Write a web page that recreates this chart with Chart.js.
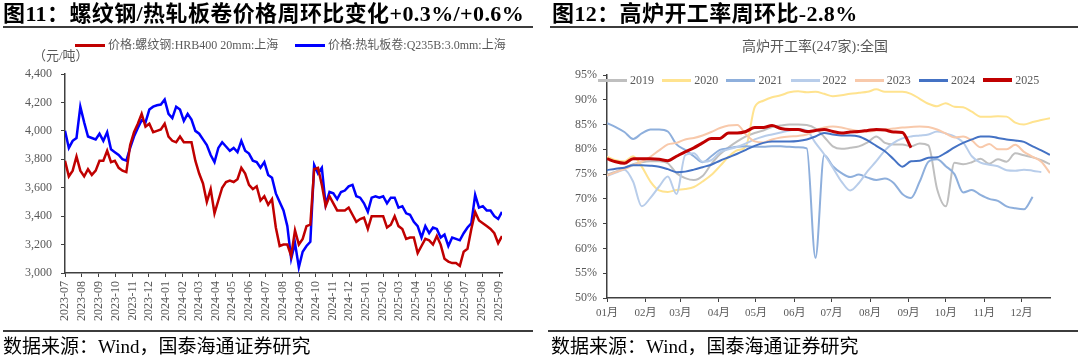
<!DOCTYPE html>
<html>
<head>
<meta charset="utf-8">
<script src="https://cdn.jsdelivr.net/npm/chart.js@4.4.1/dist/chart.umd.min.js"></script>
<style>
  body { margin: 0; width: 1080px; height: 358px; background: #fff; position: relative; overflow: hidden;
         font-family: 'Liberation Serif', 'Noto Sans CJK SC', serif; }
  canvas { position: absolute; top: 0; }
  .t { position: absolute; white-space: nowrap; }
  .fig-title { top: 2px; font-size: 22px; line-height: 24px; font-weight: bold; color: #000; letter-spacing: 0.4px; }
  .rule { position: absolute; height: 2px; background: #3c3c3c; }
  .source { top: 337px; font-size: 19px; line-height: 20px; color: #000; }
  .legend-text { font-size: 12px; line-height: 14px; color: #595959; }
  .swatch { position: absolute; height: 3px; }
</style>
</head>
<body>
<canvas id="priceChart" width="540" height="358" style="left:0"></canvas>
<canvas id="rateChart" width="540" height="358" style="left:540px"></canvas>

<div class="t fig-title" style="left:3px">图11：螺纹钢/热轧板卷价格周环比变化+0.3%/+0.6%</div>
<div class="rule" style="left:3px;width:530px;top:26px"></div>
<div class="t fig-title" style="left:552px">图12：高炉开工率周环比-2.8%</div>
<div class="rule" style="left:550px;width:528px;top:26px"></div>

<div class="t legend-text" style="left:33px;top:49px;font-size:13px">（元/吨）</div>
<div class="t" style="left:715px;width:200px;text-align:center;top:39px;font-size:14px;line-height:16px;color:#595959">高炉开工率(247家):全国</div>

<div class="rule" style="left:3px;width:530px;top:330px"></div>
<div class="rule" style="left:548px;width:530px;top:330px"></div>
<div class="t source" style="left:3px">数据来源：Wind，国泰海通证券研究</div>
<div class="t source" style="left:551px">数据来源：Wind，国泰海通证券研究</div>

<script>
// ---- 图11: weekly prices, 元/吨, first week starts 2023-07-01 ----
const rebarPrice = [3790,3680,3720,3820,3720,3680,3730,3690,3720,3790,3790,3860,3780,3790,3740,3720,3710,3900,3990,4050,
  4120,4030,4050,3990,4000,4010,4050,3960,3930,3920,3960,3920,3920,3920,3790,3700,3630,3500,3590,3420,
  3510,3600,3640,3650,3640,3660,3740,3700,3620,3590,3610,3510,3540,3480,3520,3320,3190,3200,
  3200,3120,3300,3200,3240,3330,3340,3730,3740,3620,3470,3540,3490,3440,3440,3440,3460,3410,3360,3380,
  3390,3310,3400,3400,3400,3400,3320,3340,3400,3330,3310,3240,3250,3250,3140,3190,3240,3230,3200,3260,
  3200,3100,3080,3070,3070,3050,3150,3170,3310,3430,3370,3350,3330,3310,3280,3210,3260];
const hotRolledPrice = [4000,3880,3930,3950,4170,4060,3960,3950,3940,3980,3930,3990,3870,3850,3830,3800,3790,3880,3960,4020,
  4075,4060,4150,4170,4180,4185,4220,4120,4090,4170,4150,4070,4120,4080,4000,3980,3940,3900,3830,3780,
  3880,3920,3890,3860,3880,3850,3930,3860,3840,3790,3780,3740,3780,3690,3670,3560,3500,3440,
  3330,3100,3210,3040,3150,3190,3220,3760,3700,3740,3480,3570,3560,3520,3570,3580,3610,3620,3540,3530,
  3490,3430,3530,3540,3530,3540,3490,3530,3530,3460,3470,3420,3410,3360,3330,3250,3330,3280,3320,3310,
  3250,3270,3190,3250,3240,3230,3280,3320,3350,3550,3460,3470,3440,3440,3400,3380,3430];
const priceMonthLabels = ['2023-07','2023-08','2023-09','2023-10','2023-11','2023-12','2024-01','2024-02','2024-03',
  '2024-04','2024-05','2024-06','2024-07','2024-08','2024-09','2024-10','2024-11','2024-12','2025-01','2025-02',
  '2025-03','2025-04','2025-05','2025-06','2025-07','2025-08','2025-09'];
const priceYTicks = [3000, 3200, 3400, 3600, 3800, 4000, 4200, 4400];

// ---- 图12: weekly blast furnace utilisation, % ----
const rate2019 = [74.9,75.5,76.2,77.0,77.4,77.6,77.6,77.2,75.2,74.2,73.8,74.6,77.0,79.0,80.4,81.6,82.6,83.3,83.8,84.5,
  84.8,85.0,85.0,84.9,84.2,82.5,80.6,80.1,80.3,80.6,81.4,82.6,81.3,81.0,81.0,80.6,81.2,80.8,72.0,68.5,
  77.3,77.0,77.4,78.1,77.1,78.0,77.5,79.2,78.8,78.4,77.8,77.0];
const rate2020 = [78.5,77.8,77.6,78.6,76.5,73.5,71.7,71.4,71.8,72.0,72.4,73.5,74.8,76.6,78.5,79.8,80.6,88.5,89.8,90.5,
  90.9,91.5,91.7,91.5,91.6,91.2,90.7,90.9,91.2,91.4,91.6,92.1,91.6,91.6,91.6,91.2,90.2,89.2,88.7,89.3,
  88.6,88.5,87.6,86.6,86.6,86.7,86.6,85.4,85.0,85.5,85.9,86.3];
const rate2021 = [85.3,84.5,83.5,82.1,83.2,84.0,84.0,83.6,81.0,79.9,78.6,77.4,78.6,79.9,80.2,80.5,80.6,80.5,80.5,80.6,
  80.6,80.5,80.4,80.2,58.1,78.8,76.6,75.2,74.4,74.9,74.3,73.8,74.1,73.2,71.0,70.2,73.5,77.5,78.0,76.6,
  75.0,71.3,71.8,70.8,70.0,69.6,68.5,68.1,67.9,70.4];
const rate2022 = [74.6,75.3,75.9,73.5,68.5,70.2,72.5,74.5,71.0,78.8,79.2,77.5,77.8,79.4,80.0,80.5,81.2,82.0,82.6,83.0,
  83.4,83.8,84.1,83.8,81.3,79.0,76.3,73.5,71.7,73.2,75.6,77.6,79.8,81.3,82.2,82.6,82.8,83.0,83.6,83.2,
  82.6,81.4,78.6,77.3,76.9,76.6,75.8,75.7,75.9,75.7,75.4];
const rate2023 = [74.7,75.4,76.0,76.8,77.5,78.5,79.8,81.0,81.3,82.0,82.3,82.8,83.5,84.3,84.8,84.9,83.0,81.6,81.4,82.0,
  82.4,82.6,82.7,83.0,83.8,84.4,84.6,84.4,84.0,83.7,83.6,83.8,84.0,84.2,84.4,84.5,84.6,84.5,84.0,83.2,
  82.4,82.6,81.8,80.4,81.1,80.0,80.0,80.9,79.5,78.5,77.5,75.2];
const rate2024 = [75.8,76.1,76.3,76.8,76.8,76.7,76.5,76.0,75.4,75.5,75.9,76.4,76.9,77.7,78.4,79.1,79.9,80.7,81.3,81.6,
  81.6,81.6,81.7,82.0,82.6,83.3,83.0,82.8,82.8,82.6,81.8,80.7,79.6,78.0,76.5,77.6,77.7,78.3,78.4,79.3,
  80.4,81.3,82.0,82.6,82.6,82.3,82.0,81.8,81.5,80.6,79.8,78.9];
const rate2025 = [78.1,77.5,77.2,78.1,78.1,78.1,78.0,77.7,78.6,79.5,80.3,81.3,82.2,82.2,83.3,83.3,83.6,84.4,84.4,84.8,
  84.2,84.0,84.0,83.6,83.8,84.0,83.6,83.3,83.5,83.6,83.8,84.0,83.9,83.5,83.4,80.3];
const rateMonthLabels = ['01月','02月','03月','04月','05月','06月','07月','08月','09月','10月','11月','12月'];
const daysInMonth = [31,28,31,30,31,30,31,31,30,31,30,31];

Chart.defaults.font.family = "'Liberation Serif', 'Noto Sans CJK SC', serif";
Chart.defaults.font.size = 12;
Chart.defaults.color = '#595959';
const axisColor = '#404040';

// x positions: days since 2023-07-01 (one point per week) and month-start ticks
const dayMs = 86400000;
const priceStart = Date.UTC(2023, 6, 1);
const priceDays = rebarPrice.map((_, i) => i * 7);
const priceTickDays = priceMonthLabels.map(s => {
  const [y, m] = s.split('-').map(Number);
  return (Date.UTC(y, m - 1, 1) - priceStart) / dayMs;
});

const weekIndex = rate2019.map((_, i) => i);
let dayOfYear = 0;
const rateTickWeeks = daysInMonth.map(d => { const w = dayOfYear / 7; dayOfYear += d; return w; });

function addLegend(items, y, swatchW) {
  items.forEach(it => {
    const sw = document.createElement('div');
    sw.className = 'swatch';
    sw.style.cssText = `left:${it.x}px;top:${y - it.thick / 2}px;width:${swatchW}px;height:${it.thick}px;background:${it.color}`;
    document.body.appendChild(sw);
    const tx = document.createElement('div');
    tx.className = 't legend-text';
    tx.style.cssText = `left:${it.x + swatchW + 3}px;top:${y - 7}px`;
    tx.textContent = it.label;
    document.body.appendChild(tx);
  });
}

// ---------- 图11 ----------
const priceSeries = [
  { label: '价格:螺纹钢:HRB400 20mm:上海', data: rebarPrice, color: '#C00000' },
  { label: '价格:热轧板卷:Q235B:3.0mm:上海', data: hotRolledPrice, color: '#0000FF' },
];

new Chart(document.getElementById('priceChart'), {
  type: 'line',
  data: {
    labels: priceDays,
    datasets: priceSeries.map(s => ({
      label: s.label, data: s.data, borderColor: s.color, backgroundColor: s.color,
      borderWidth: 2.5, pointRadius: 0, tension: 0, fill: false,
    })),
  },
  options: {
    responsive: false,
    animation: false,
    layout: { padding: { top: 74, right: 38, left: 0, bottom: 0 } },
    plugins: { legend: { display: false }, tooltip: { enabled: false } },
    scales: {
      x: {
        type: 'linear', min: 0, max: 798,
        afterBuildTicks: s => { s.ticks = priceTickDays.map(v => ({ value: v })); },
        afterFit: s => { s.height = 85; },
        grid: { drawOnChartArea: false, drawTicks: true, tickLength: 4, color: axisColor },
        border: { color: axisColor, width: 1.5 },
        ticks: { autoSkip: false, minRotation: 90, maxRotation: 90, padding: 4,
                 callback: (v, i) => priceMonthLabels[i] },
      },
      y: {
        min: 3000, max: 4400,
        afterBuildTicks: s => { s.ticks = priceYTicks.map(v => ({ value: v })); },
        afterFit: s => { s.width = 65; },
        grid: { drawOnChartArea: false, drawTicks: true, tickLength: 4, color: axisColor },
        border: { color: axisColor, width: 1.5 },
        ticks: { padding: 9, callback: v => v.toLocaleString('en-US') },
      },
    },
  },
});
addLegend(priceSeries.map((s, i) => ({ label: s.label, color: s.color, x: [75, 295][i], thick: 3 })), 45, 30);

// ---------- 图12 ----------
const rateSeries = [
  { label: '2019', data: rate2019, color: '#BFBFBF', width: 2 },
  { label: '2020', data: rate2020, color: '#FFE38F', width: 2 },
  { label: '2021', data: rate2021, color: '#8EAFDC', width: 2 },
  { label: '2022', data: rate2022, color: '#B8CDEA', width: 2 },
  { label: '2023', data: rate2023, color: '#F8C9AB', width: 2 },
  { label: '2024', data: rate2024, color: '#4472C4', width: 2 },
  { label: '2025', data: rate2025, color: '#C00000', width: 3 },
];

new Chart(document.getElementById('rateChart'), {
  type: 'line',
  data: {
    labels: weekIndex,
    datasets: rateSeries.map((s, i) => ({
      label: s.label, data: s.data, borderColor: s.color, backgroundColor: s.color,
      borderWidth: s.width, pointRadius: 0, cubicInterpolationMode: 'monotone', fill: false,
      order: rateSeries.length - i,
    })),
  },
  options: {
    responsive: false,
    animation: false,
    layout: { padding: { top: 75, right: 30, left: 0, bottom: 0 } },
    plugins: { legend: { display: false }, tooltip: { enabled: false } },
    scales: {
      x: {
        type: 'linear', min: 0, max: 51,
        afterBuildTicks: s => { s.ticks = rateTickWeeks.map(v => ({ value: v })); },
        afterFit: s => { s.height = 60; },
        grid: { drawOnChartArea: false, drawTicks: true, tickLength: 4, color: axisColor },
        border: { color: axisColor, width: 1.5 },
        ticks: { autoSkip: false, minRotation: 0, maxRotation: 0, padding: 5, font: { size: 11 },
                 callback: (v, i) => rateMonthLabels[i] },
      },
      y: {
        min: 50, max: 95,
        afterFit: s => { s.width = 67; },
        grid: { drawOnChartArea: false, drawTicks: true, tickLength: 4, color: axisColor },
        border: { color: axisColor, width: 1.5 },
        ticks: { stepSize: 5, padding: 6, callback: v => v + '%' },
      },
    },
  },
});
addLegend(rateSeries.map((s, i) => ({ label: s.label, color: s.color, x: 598 + 64.2 * i, thick: s.width === 3 ? 4 : 3 })), 80, 29);
</script>
</body>
</html>
